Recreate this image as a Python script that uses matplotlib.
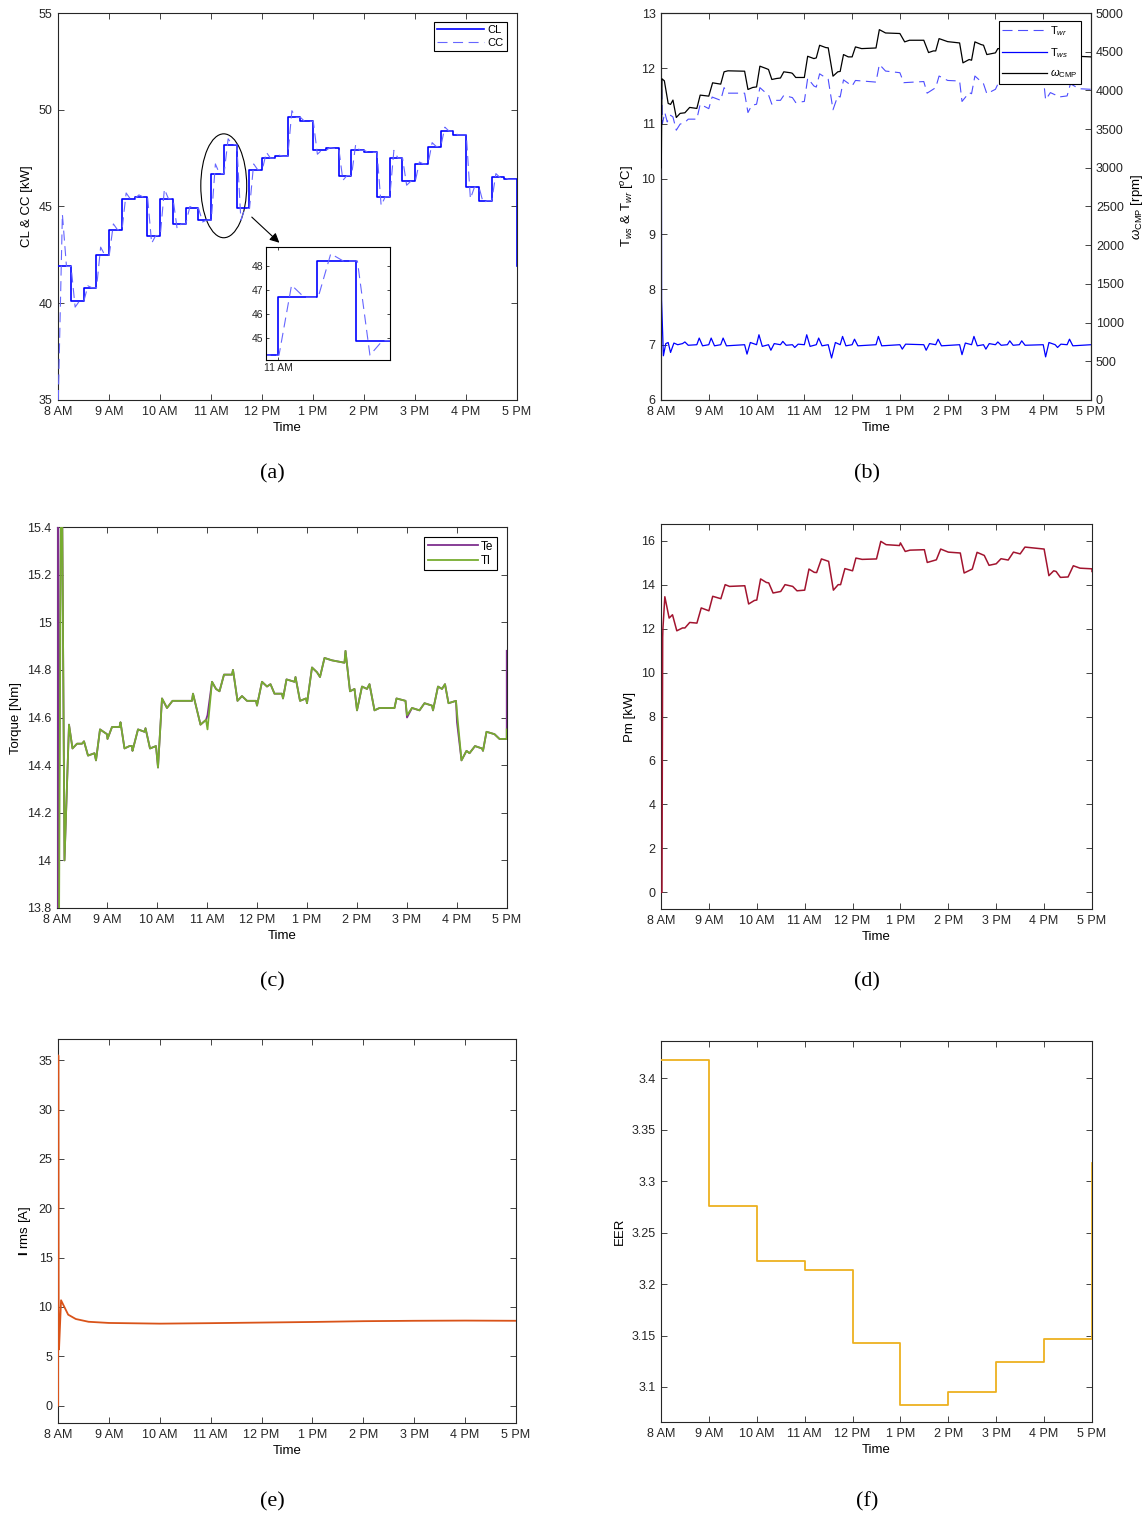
import matplotlib
matplotlib.use("Agg")
import matplotlib.pyplot as plt
from matplotlib.patches import Ellipse
from matplotlib.ticker import FormatStrFormatter

plt.rcParams['font.family'] = ['Liberation Sans', 'DejaVu Sans']
plt.rcParams['mathtext.fontset'] = 'custom'
plt.rcParams['mathtext.rm'] = 'Liberation Sans'
plt.rcParams['mathtext.it'] = 'Liberation Sans:italic'
plt.rcParams['mathtext.bf'] = 'Liberation Sans:bold'

# ---- shared time axis ----
hour_ticks = list(range(8, 18))
hour_labels = ['8 AM', '9 AM', '10 AM', '11 AM', '12 PM',
               '1 PM', '2 PM', '3 PM', '4 PM', '5 PM']

# ---- (a) cooling load (quarter-hour steps) and cooling capacity ----
cl_levels = [41.9, 40.1, 40.8, 42.5, 43.8, 45.4, 45.5, 43.5, 45.4, 44.1, 44.9, 44.3,
             46.7, 48.2, 44.9, 46.9, 47.5, 47.6, 49.6, 49.4, 47.9, 48.0, 46.6, 47.9,
             47.8, 45.5, 47.5, 46.3, 47.2, 48.1, 48.9, 48.7, 46.0, 45.3, 46.5, 46.4]
cl_end = 41.9
cc_start = 35.0
cc_peaks = [44.6, 39.8, 40.9, 42.9, 44.1, 45.7, 45.6, 43.1, 45.9, 43.85, 45.0, 44.2,
            47.2, 48.5, 44.3, 47.2, 47.8, 47.65, 49.95, 49.4, 47.7, 48.05, 46.35, 48.2,
            47.8, 45.05, 47.9, 46.1, 47.3, 48.3, 49.1, 48.7, 45.4, 45.2, 46.7, 46.4]

# ---- (b) water temperatures and compressor speed ----
twr_t = [8.006, 8.03, 8.08, 8.13, 8.2, 8.25, 8.32, 8.4, 8.5, 8.57, 8.75, 8.82, 9.0, 9.07,
         9.25, 9.32, 9.4, 9.75, 9.82, 9.9, 10.0, 10.07, 10.2, 10.25, 10.32, 10.4, 10.5,
         10.57, 10.75, 10.82, 11.0, 11.07, 11.2, 11.25, 11.32, 11.5, 11.6, 11.7, 11.75,
         11.82, 12.0, 12.07, 12.5, 12.57, 12.7, 13.0, 13.08, 13.5, 13.57, 13.75, 13.82,
         14.0, 14.25, 14.3, 14.45, 14.5, 14.57, 14.75, 14.82, 15.0, 15.07, 15.25, 15.32,
         15.5, 15.57, 15.75, 16.0, 16.05, 16.15, 16.25, 16.32, 16.5, 16.57, 16.75, 17.0]
twr_v = [11.9, 11.0, 11.2, 11.03, 11.15, 11.12, 10.88, 10.99, 11.02, 11.08, 11.08, 11.35,
         11.27, 11.48, 11.42, 11.65, 11.55, 11.55, 11.2, 11.33, 11.35, 11.65, 11.55, 11.52,
         11.35, 11.42, 11.42, 11.51, 11.47, 11.38, 11.4, 11.82, 11.68, 11.66, 11.9, 11.8,
         11.25, 11.5, 11.48, 11.79, 11.68, 11.78, 11.75, 12.07, 11.95, 11.92, 11.74, 11.76,
         11.55, 11.65, 11.86, 11.78, 11.77, 11.4, 11.56, 11.54, 11.86, 11.72, 11.54, 11.62,
         11.75, 11.72, 11.85, 11.8, 11.9, 11.86, 11.85, 11.43, 11.56, 11.52, 11.48, 11.5,
         11.72, 11.63, 11.62]
tws_t = [8.006, 8.012, 8.05, 8.1, 8.15, 8.2, 8.27, 8.35, 8.45, 8.5, 8.57, 8.75, 8.8, 8.87,
         9.0, 9.05, 9.12, 9.25, 9.3, 9.37, 9.75, 9.8, 9.87, 10.0, 10.05, 10.12, 10.25,
         10.3, 10.37, 10.5, 10.55, 10.62, 10.75, 10.8, 10.87, 11.0, 11.05, 11.12, 11.25,
         11.3, 11.37, 11.5, 11.57, 11.65, 11.75, 11.8, 11.87, 12.0, 12.05, 12.12, 12.5,
         12.55, 12.62, 13.0, 13.05, 13.12, 13.5, 13.55, 13.62, 13.75, 13.8, 13.87, 14.25,
         14.3, 14.37, 14.5, 14.55, 14.62, 14.75, 14.8, 14.87, 15.0, 15.05, 15.12, 15.25,
         15.3, 15.37, 15.5, 15.55, 15.62, 16.0, 16.05, 16.12, 16.25, 16.3, 16.37, 16.5,
         16.55, 16.62, 17.0]
tws_v = [12.0, 7.8, 6.8, 7.02, 7.04, 6.86, 7.03, 7.0, 7.02, 7.05, 6.99, 7.0, 7.12, 6.98,
         7.0, 7.12, 6.98, 7.0, 7.12, 6.98, 7.0, 6.83, 7.04, 7.0, 7.18, 6.97, 7.0,
         6.9, 7.02, 7.0, 7.06, 6.99, 7.0, 6.95, 7.01, 7.0, 7.18, 6.97, 7.0,
         7.12, 6.98, 7.0, 6.76, 7.04, 7.0, 7.15, 6.98, 7.0, 7.1, 6.98, 7.0,
         7.15, 6.98, 7.0, 6.92, 7.01, 7.0, 6.9, 7.02, 7.0, 7.1, 6.98, 7.0,
         6.82, 7.03, 7.0, 7.15, 6.98, 7.0, 6.92, 7.02, 7.0, 7.05, 6.99, 7.0,
         7.07, 6.99, 7.0, 7.07, 6.99, 7.0, 6.78, 7.04, 7.0, 6.95, 7.01, 7.0,
         7.1, 6.98, 7.0]
wcmp_t = [8.006, 8.02, 8.07, 8.15, 8.2, 8.25, 8.32, 8.4, 8.5, 8.6, 8.75, 8.82, 9.0, 9.08,
          9.25, 9.32, 9.4, 9.75, 9.82, 9.92, 10.0, 10.07, 10.2, 10.25, 10.32, 10.42, 10.5,
          10.57, 10.72, 10.75, 10.82, 11.0, 11.07, 11.2, 11.25, 11.32, 11.45, 11.5, 11.6,
          11.7, 11.75, 11.82, 11.92, 12.0, 12.07, 12.2, 12.5, 12.57, 12.7, 13.0, 13.1,
          13.2, 13.5, 13.6, 13.7, 13.75, 13.82, 14.0, 14.25, 14.32, 14.45, 14.5, 14.57,
          14.7, 14.75, 14.82, 15.0, 15.05, 15.25, 15.32, 15.5, 15.57, 15.75, 16.0, 16.07,
          16.2, 16.25, 16.32, 16.5, 16.57, 16.75, 17.0]
wcmp_v = [3000, 4150, 4124, 3832, 3819, 3875, 3650, 3703, 3711, 3780, 3767, 3939, 3926, 4098,
          4081, 4240, 4253, 4248, 4012, 4038, 4045, 4313, 4283, 4270, 4141, 4154, 4160,
          4240, 4227, 4220, 4167, 4167, 4441, 4411, 4420, 4583, 4553, 4550, 4184,
          4240, 4245, 4463, 4433, 4433, 4562, 4540, 4548, 4785, 4742, 4735, 4627,
          4648, 4648, 4489, 4510, 4510, 4669, 4630, 4613, 4356, 4399, 4390, 4627,
          4592, 4584, 4463, 4485, 4540, 4530, 4660, 4640, 4720, 4700, 4690, 4380,
          4450, 4440, 4350, 4360, 4480, 4440, 4433]

# ---- (c) electromagnetic torque Te and load torque Tl ----
tl_t = [8.01, 8.04, 8.08, 8.1, 8.15, 8.24, 8.31, 8.4, 8.5, 8.54, 8.62, 8.75, 8.78, 8.86,
        9.0, 9.01, 9.1, 9.25, 9.27, 9.35, 9.45, 9.5, 9.51, 9.62, 9.75, 9.77, 9.86, 9.98,
        10.02, 10.1, 10.2, 10.31, 10.7, 10.72, 10.87, 10.98, 11.01, 11.1, 11.18, 11.25,
        11.34, 11.5, 11.52, 11.61, 11.7, 11.8, 11.98, 12.0, 12.1, 12.2, 12.27, 12.35,
        12.5, 12.52, 12.59, 12.75, 12.77, 12.86, 12.98, 13.0, 13.1, 13.2, 13.26, 13.35,
        13.5, 13.75, 13.77, 13.86, 13.95, 14.0, 14.1, 14.2, 14.25, 14.35, 14.45, 14.75,
        14.79, 14.97, 15.0, 15.1, 15.25, 15.35, 15.5, 15.52, 15.62, 15.7, 15.76, 15.83,
        15.98, 16.0, 16.09, 16.19, 16.25, 16.36, 16.5, 16.52, 16.59, 16.75, 16.85, 16.995, 16.995]
tl_v = [13.6, 13.7, 15.6, 15.6, 14.0, 14.57, 14.47, 14.49, 14.49, 14.5, 14.44, 14.45, 14.42,
        14.55, 14.53, 14.51, 14.56, 14.56, 14.58, 14.47, 14.48, 14.48, 14.46, 14.55, 14.54,
        14.555, 14.47, 14.48, 14.39, 14.68, 14.64, 14.67, 14.67, 14.70, 14.57, 14.59, 14.55,
        14.75, 14.72, 14.71, 14.78, 14.78, 14.80, 14.67, 14.69, 14.67, 14.67, 14.65, 14.75,
        14.73, 14.74, 14.70, 14.70, 14.68, 14.76, 14.75, 14.77, 14.67, 14.68, 14.66, 14.81,
        14.79, 14.77, 14.85, 14.84, 14.83, 14.88, 14.71, 14.72, 14.63, 14.73, 14.72, 14.74,
        14.63, 14.64, 14.64, 14.68, 14.67, 14.61, 14.64, 14.63, 14.66, 14.65, 14.63, 14.73,
        14.72, 14.74, 14.66, 14.67, 14.62, 14.42, 14.46, 14.45, 14.48, 14.47, 14.46, 14.54,
        14.53, 14.51, 14.51, 14.55]
te_start_t = [8.006, 8.008, 8.01, 8.012, 8.03]
te_start_v = [15.6, 13.6, 15.6, 13.6, 13.9]
te_changes = {11.01: 14.61, 15.0: 14.60, 16.0: 14.58}
te_end = 14.88

# ---- (d) mechanical power ----
pm_t = [8.0, 8.02, 8.035, 8.04, 8.08, 8.17, 8.24, 8.33, 8.45, 8.5, 8.6, 8.75, 8.84, 9.0,
        9.08, 9.25, 9.34, 9.43, 9.75, 9.83, 9.95, 10.0, 10.08, 10.2, 10.25, 10.34, 10.5,
        10.59, 10.75, 10.84, 11.0, 11.09, 11.2, 11.25, 11.35, 11.5, 11.6, 11.7, 11.75,
        11.84, 12.0, 12.07, 12.2, 12.5, 12.59, 12.7, 12.98, 13.0, 13.1, 13.2, 13.5, 13.56,
        13.75, 13.84, 14.0, 14.25, 14.33, 14.5, 14.6, 14.75, 14.85, 15.0, 15.1, 15.25,
        15.36, 15.5, 15.6, 16.0, 16.1, 16.2, 16.25, 16.34, 16.5, 16.61, 16.75, 17.0, 17.0]
pm_v = [0.0, 0.0, 11.6, 12.0, 13.45, 12.48, 12.63, 11.9, 12.03, 12.03, 12.28, 12.25, 12.94,
        12.81, 13.47, 13.36, 14.0, 13.92, 13.95, 13.12, 13.28, 13.3, 14.26, 14.1, 14.08,
        13.62, 13.69, 14.0, 13.92, 13.72, 13.75, 14.71, 14.56, 14.55, 15.17, 15.06, 13.75,
        14.0, 14.0, 14.73, 14.63, 15.21, 15.15, 15.17, 15.97, 15.82, 15.78, 15.9, 15.51,
        15.57, 15.59, 15.01, 15.13, 15.62, 15.48, 15.44, 14.53, 14.71, 15.47, 15.33, 14.88,
        14.95, 15.18, 15.12, 15.48, 15.4, 15.71, 15.62, 14.41, 14.63, 14.6, 14.33, 14.35,
        14.86, 14.75, 14.72, 14.6]

# ---- (e) rms current ----
irms_t = [8.003, 8.006, 8.012, 8.02, 8.06, 8.2, 8.35, 8.6, 9.0, 10.0, 11.0, 12.0, 13.0,
          14.0, 15.0, 16.0, 17.0]
irms_v = [0.0, 35.5, 5.7, 5.7, 10.68, 9.22, 8.78, 8.5, 8.38, 8.31, 8.36, 8.42, 8.48,
          8.56, 8.6, 8.62, 8.6]

# ---- (f) hourly EER ----
eer_levels = [3.418, 3.2753, 3.222, 3.2137, 3.1428, 3.0826, 3.0955, 3.1245, 3.1464]
eer_end = 3.318

W, H = 1143, 1521
fig = plt.figure(figsize=(W / 100, H / 100), dpi=100)


def px_axes(x0, y0, x1, y1):
    return fig.add_axes([x0 / W, 1 - y1 / H, (x1 - x0) / W, (y1 - y0) / H])


def style_time_axis(ax, right_ticks=True):
    ax.set_xlim(8, 17)
    ax.set_xticks(hour_ticks)
    ax.set_xticklabels(hour_labels)
    ax.set_xlabel('Time', fontsize=9.5, labelpad=3)
    ax.tick_params(direction='in', length=4, width=0.6, top=True, right=right_ticks,
                   labelsize=9, colors='#262626', pad=4)
    for s in ax.spines.values():
        s.set_linewidth(0.8)
        s.set_color('#262626')


def box_legend(ax, handles, labels, right_gap, top_gap, hl, fs=7.5, spacing=0.25):
    w = ax.bbox.width
    h = ax.bbox.height
    leg = ax.legend(handles, labels, loc='upper right',
                    bbox_to_anchor=(1 - right_gap / w, 1 - top_gap / h),
                    borderaxespad=0, fancybox=False, framealpha=1, edgecolor='black',
                    fontsize=fs, handlelength=hl, handletextpad=0.3, borderpad=0.3,
                    labelspacing=spacing)
    leg.get_frame().set_linewidth(0.8)
    leg.set_zorder(5)
    return leg


# panel (a)
cl_t = [8 + 0.25 * k for k in range(len(cl_levels))] + [17.0, 17.0]
cl_v = cl_levels + [cl_levels[-1], cl_end]
cc_t, cc_v = [8.006], [cc_start]
for k, lvl in enumerate(cl_levels):
    tk = 8.006 + 0.25 * k
    prev = cl_levels[k - 1] if k else cc_start
    cc_t += [tk, tk + 0.08, tk + 0.16]
    cc_v += [prev, cc_peaks[k], lvl]
cc_t.append(17.0)
cc_v.append(cl_levels[-1])

ax_a = px_axes(58, 13, 517, 400)
l_cl, = ax_a.plot(cl_t, cl_v, drawstyle='steps-post', color='#0000FF', lw=1.2, zorder=3)
l_cc, = ax_a.plot(cc_t, cc_v, color='#6666FF', lw=0.8, linestyle=(0, (9, 5)), zorder=3)
ax_a.set_ylim(35, 55)
ax_a.set_yticks([35, 40, 45, 50, 55])
ax_a.set_ylabel('CL & CC [kW]', fontsize=9.5)
style_time_axis(ax_a)
box_legend(ax_a, [l_cl, l_cc], ['CL', 'CC'], 10, 9, 4.2, fs=8, spacing=0.2)
ax_a.add_patch(Ellipse((11.25, 46.07), 0.9, 5.37, fill=False, ec='black', lw=0.8))
ax_a.annotate('', xy=(12.38, 43.03), xytext=(11.76, 44.55),
              arrowprops=dict(arrowstyle='-|>', color='black', lw=0.8, mutation_scale=14))

ax_in = px_axes(266, 247, 390, 360)
ax_in.plot(cl_t, cl_v, drawstyle='steps-post', color='#0000FF', lw=1.2)
ax_in.plot(cc_t, cc_v, color='#6666FF', lw=0.8, linestyle=(0, (9, 5)))
ax_in.set_xlim(10.923, 11.714)
ax_in.set_ylim(44.1, 48.78)
ax_in.set_xticks([11])
ax_in.set_xticklabels(['11 AM'])
ax_in.set_yticks([45, 46, 47, 48])
ax_in.tick_params(direction='in', length=2.5, width=0.6, top=True, right=True,
                  labelsize=7.5, colors='#262626', pad=2)
for s in ax_in.spines.values():
    s.set_linewidth(0.8)

# panel (b)
ax_b = px_axes(661, 13, 1091, 400)
l_twr, = ax_b.plot(twr_t, twr_v, color='#4D4DFF', lw=0.8, linestyle=(0, (9, 5)), zorder=3)
l_tws, = ax_b.plot(tws_t, tws_v, color='#0000FF', lw=0.9, zorder=3)
ax_b.set_ylim(6, 13)
ax_b.set_ylabel(r'T$_{ws}$ & T$_{wr}$ [$^{o}$C]', fontsize=9.5)
style_time_axis(ax_b, right_ticks=False)
ax_r = ax_b.twinx()
l_w, = ax_r.plot(wcmp_t, wcmp_v, color='black', lw=0.9, zorder=3)
ax_r.set_ylim(0, 5000)
ax_r.set_yticks(range(0, 5001, 500))
ax_r.set_ylabel(r'$\omega_{\mathrm{CMP}}$ [rpm]', fontsize=9.5, rotation=90, labelpad=4)
ax_r.tick_params(direction='in', length=4, width=0.6, labelsize=9, colors='#262626')
for s in ax_r.spines.values():
    s.set_linewidth(0.8)
    s.set_color('#262626')
box_legend(ax_r, [l_twr, l_tws, l_w],
           [r'T$_{wr}$', r'T$_{ws}$', r'$\omega_{\mathrm{CMP}}$'], 10, 8, 4.0, fs=8,
           spacing=0.7)

# panel (c)
te_t = te_start_t + tl_t[2:]
te_v = te_start_v + [te_changes.get(t, v) for t, v in zip(tl_t[2:], tl_v[2:])]
te_v[-1] = te_end
ax_c = px_axes(57, 527, 507, 908)
l_te, = ax_c.plot(te_t, te_v, color='#7E2F8E', lw=1.3, zorder=3)
l_tl, = ax_c.plot(tl_t, tl_v, color='#77AC30', lw=1.3, zorder=3)
ax_c.set_ylim(13.8, 15.4)
ax_c.set_yticks([13.8, 14.0, 14.2, 14.4, 14.6, 14.8, 15.0, 15.2, 15.4])
ax_c.yaxis.set_major_formatter(FormatStrFormatter('%g'))
ax_c.set_ylabel('Torque [Nm]', fontsize=9.5)
style_time_axis(ax_c)
box_legend(ax_c, [l_te, l_tl], ['Te', 'Tl'], 10, 10, 4.2, fs=8.5, spacing=0.2)

# panel (d)
ax_d = px_axes(661, 524, 1092, 909)
ax_d.plot(pm_t, pm_v, color='#A2142F', lw=1.1, zorder=3)
ax_d.set_ylim(-0.76, 16.76)
ax_d.set_yticks(range(0, 17, 2))
ax_d.set_ylabel('Pm [kW]', fontsize=9.5)
style_time_axis(ax_d)

# panel (e)
ax_e = px_axes(58, 1039, 516, 1423)
ax_e.plot(irms_t, irms_v, color='#D95319', lw=1.3, zorder=3)
ax_e.set_ylim(-1.76, 37.16)
ax_e.set_yticks(range(0, 36, 5))
ax_e.set_ylabel(r'$\mathbf{I}$ rms [A]', fontsize=9.5)
style_time_axis(ax_e)

# panel (f)
eer_t = list(range(8, 17)) + [17, 17]
eer_v = eer_levels + [eer_levels[-1], eer_end]
ax_f = px_axes(661, 1041, 1092, 1422)
ax_f.plot(eer_t, eer_v, drawstyle='steps-post', color='#EDB120', lw=1.3, zorder=3)
ax_f.set_ylim(3.066, 3.436)
ax_f.set_yticks([3.1, 3.15, 3.2, 3.25, 3.3, 3.35, 3.4])
ax_f.yaxis.set_major_formatter(FormatStrFormatter('%g'))
ax_f.set_ylabel('EER', fontsize=9.5)
style_time_axis(ax_f)

# panel captions
for lab, x, y in [('(a)', 272, 474), ('(b)', 867, 474), ('(c)', 272, 982),
                  ('(d)', 867, 982), ('(e)', 272, 1502), ('(f)', 867, 1502)]:
    fig.text(x / W, 1 - y / H, lab, ha='center', va='center', fontsize=16,
             family=['Liberation Serif', 'DejaVu Serif'])

fig.savefig('out.png', dpi=100)
